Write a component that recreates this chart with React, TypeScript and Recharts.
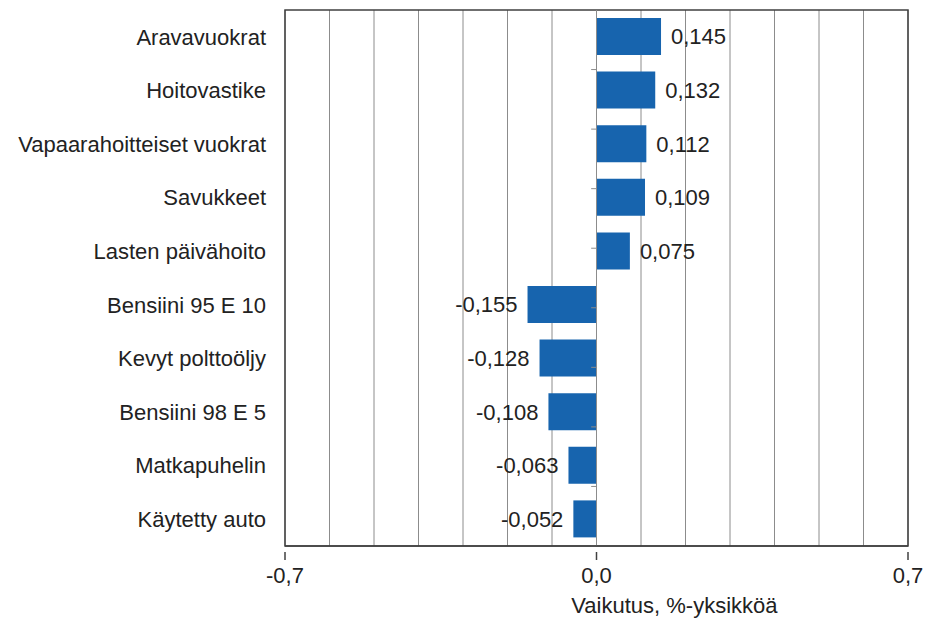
import { BarChart, Bar, CartesianGrid, LabelList, ReferenceArea, ReferenceLine, XAxis, YAxis } from 'recharts';

const categories = [
  'Aravavuokrat',
  'Hoitovastike',
  'Vapaarahoitteiset vuokrat',
  'Savukkeet',
  'Lasten päivähoito',
  'Bensiini 95 E 10',
  'Kevyt polttoöljy',
  'Bensiini 98 E 5',
  'Matkapuhelin',
  'Käytetty auto',
];
const values = [0.145, 0.132, 0.112, 0.109, 0.075, -0.155, -0.128, -0.108, -0.063, -0.052];
const gridTicks = [-0.7, -0.6, -0.5, -0.4, -0.3, -0.2, -0.1, 0, 0.1, 0.2, 0.3, 0.4, 0.5, 0.6, 0.7];
const labelledTicks = [-0.7, 0, 0.7];
const axisTitle = 'Vaikutus, %-yksikköä';

const rows = categories.map((name, i) => ({ name, value: values[i] }));
// boundaries between category bands, for the small ticks on the zero line
const bandEdges = categories.slice(1).map((_, i) => i + 1);

const FONT = 'Liberation Sans, Arial, sans-serif';
const fmt = (v: number, digits: number) => v.toFixed(digits).replace('.', ',');

function BottomTick(props: any) {
  const { x, y, payload } = props;
  const v = payload.value;
  if (!labelledTicks.some((t) => Math.abs(t - v) < 1e-9)) return null;
  return (
    <g>
      <line x1={x} x2={x} y1={y - 2} y2={y + 6} stroke="#404040" strokeWidth={1.5} />
      <text x={x} y={y + 29} textAnchor="middle" fontSize={22} fontFamily={FONT} fill="#222">
        {fmt(v, 1)}
      </text>
    </g>
  );
}

function AxisTitle(props: any) {
  const { viewBox } = props;
  return (
    <text
      x={viewBox.x + viewBox.width * 0.625}
      y={viewBox.y + 67}
      textAnchor="middle"
      fontSize={22}
      fontFamily={FONT}
      fill="#222"
    >
      {axisTitle}
    </text>
  );
}

function ValueLabel(props: any) {
  const { x, y, width, height, value } = props;
  const neg = value < 0;
  const tx = neg ? x + width - 10 : x + width + 10;
  return (
    <text
      x={tx}
      y={y + height / 2}
      dy="0.36em"
      textAnchor={neg ? 'end' : 'start'}
      fontSize={22}
      fontFamily={FONT}
      fill="#222"
    >
      {fmt(value, 3)}
    </text>
  );
}

export default function App() {
  return (
    <div style={{ position: 'absolute', left: 0, top: 0, background: '#fff' }}>
      <BarChart
        width={927}
        height={620}
        data={rows}
        layout="vertical"
        margin={{ top: 10, right: 19, bottom: 0, left: 0 }}
      >
        <CartesianGrid horizontal={false} stroke="#8c8c8c" strokeWidth={1} />
        <XAxis
          type="number"
          domain={[-0.7, 0.7]}
          ticks={gridTicks}
          interval={0}
          height={74}
          tickLine={false}
          axisLine={{ stroke: '#404040', strokeWidth: 1.5 }}
          tick={<BottomTick />}
          label={<AxisTitle />}
        />
        <YAxis
          type="category"
          dataKey="name"
          width={285}
          axisLine={false}
          tickLine={false}
          tickSize={0}
          tickMargin={19}
          tick={{ fontSize: 22, fontFamily: FONT, fill: '#222' }}
          interval={0}
        />
        <YAxis yAxisId="edges" type="number" domain={[0, categories.length]} hide />
        <ReferenceLine x={0} stroke="#8c8c8c" />
        {bandEdges.map((k) => (
          <ReferenceLine
            key={k}
            yAxisId="edges"
            segment={[
              { x: -0.012, y: k },
              { x: 0, y: k },
            ]}
            stroke="#8c8c8c"
          />
        ))}
        <ReferenceArea x1={-0.7} x2={0.7} fill="none" stroke="#404040" strokeWidth={1.5} ifOverflow="visible" />
        <Bar dataKey="value" fill="#1764ae" barSize={37} isAnimationActive={false}>
          <LabelList dataKey="value" content={<ValueLabel />} />
        </Bar>
      </BarChart>
    </div>
  );
}
